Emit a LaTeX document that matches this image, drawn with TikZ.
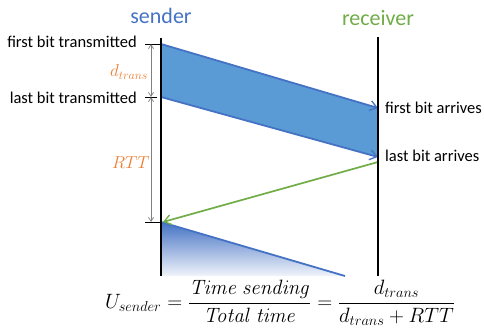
\documentclass[tikz,border=0pt]{standalone}
\usepackage{amsmath}
\usepackage[no-math]{fontspec}
\setmainfont{Carlito}
\usetikzlibrary{arrows.meta}
\definecolor{bandblue}{HTML}{5B9BD5}
\definecolor{edgeblue}{HTML}{4472C4}
\definecolor{ackgreen}{HTML}{70AD47}
\definecolor{labelorange}{HTML}{ED7D31}
\tikzset{
  lifeline/.style={line width=2.6pt, black},
  pkt/.style={line width=1.8pt, edgeblue, -{Straight Barb[length=7pt,width=10pt,line width=1.3pt]}},
  ack/.style={line width=1.7pt, ackgreen, -{Straight Barb[length=7pt,width=10pt,line width=1.3pt]}},
  dim/.style={gray, line width=0.7pt, {Straight Barb[length=4pt,width=5pt]}-{Straight Barb[length=4pt,width=5pt]}},
  tick/.style={black, line width=0.7pt},
  side/.style={font=\fontsize{16.5}{19}\selectfont, inner sep=0pt},
  head/.style={font=\fontsize{22}{26}\selectfont, inner sep=0pt},
  qty/.style={labelorange, font=\fontsize{17.5}{20}\selectfont, inner sep=0pt},
}
\begin{document}
\begin{tikzpicture}[x=1pt, y=-1pt]
\useasboundingbox (0,0) rectangle (484,331);

% lifelines
\coordinate (sTop) at (161,38);
\coordinate (sBot) at (161,276);
\coordinate (rTop) at (378,37);
\coordinate (rBot) at (378,276);

% packet transmission events
\coordinate (s1) at (161,44);
\coordinate (s2) at (161,97);
\coordinate (r1) at (378,108);
\coordinate (r2) at (378,157);
\coordinate (r3) at (378,162);
\coordinate (s3) at (161,222);
\coordinate (n1) at (345,276);

% first packet as a band
\fill[bandblue] (s1) -- (r1) -- (r2) -- (s2) -- cycle;

% next packet, fading out
\shade[top color=edgeblue, bottom color=edgeblue!8] (s3) -- (n1) -- (sBot) -- cycle;
\draw[edgeblue, line width=1.8pt] (s3) -- (n1);

\draw[pkt] (s1) -- (r1);
\draw[pkt] (s2) -- (r2);
\draw[ack] (r3) -- ([xshift=2pt]s3);

\draw[lifeline] (sTop) -- (sBot);
\draw[lifeline] (rTop) -- (rBot);

% dimension lines
\coordinate (d1) at (151,44);
\coordinate (d2) at (151,97);
\coordinate (d3) at (151,222);
\draw[tick] (145,44) -- (s1);
\draw[tick] (145,97) -- (157,97);
\draw[tick] (145,222) -- (s3);
\draw[dim] (d1) -- (d2);
\draw[dim] (d2) -- (d3);

% labels
\node[head, text=edgeblue] (snd) at (161,16) {sender};
\node[head, text=ackgreen] (rcv) at (378,18) {receiver};
\node[side, anchor=east] (ft) at (137,42) {first bit transmitted};
\node[side, anchor=east] (lt) at (137,98) {last bit transmitted};
\node[side, anchor=west] (fa) at (385,108) {first bit arrives};
\node[side, anchor=west] (la) at (385,156) {last bit arrives};
\node[qty] (dt) at (129,72) {$d_{trans}$};
\node[qty] (rtt) at (131,163) {$RTT$};

% utilization
\node[inner sep=0pt, font=\fontsize{21}{25}\selectfont] (eq) at (280,303)
  {$U_{sender} = \dfrac{\mathit{Time\ sending}}{\mathit{Total\ time}} = \dfrac{d_{trans}}{d_{trans}+RTT}$};
\end{tikzpicture}
\end{document}
